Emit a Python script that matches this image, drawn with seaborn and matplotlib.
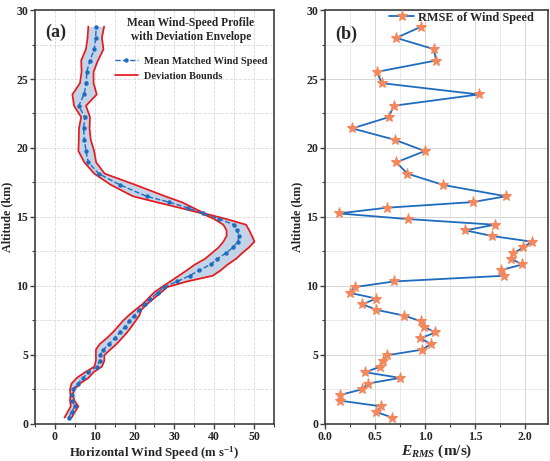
import matplotlib
matplotlib.use("Agg")
import matplotlib.pyplot as plt
import seaborn as sns
import pandas as pd
from matplotlib.ticker import MultipleLocator

# altitude levels (km), shared by both panels
altitude = [0.46, 0.87, 1.28, 1.69, 2.10, 2.52, 2.93, 3.34, 3.75, 4.16,
            4.57, 4.98, 5.39, 5.80, 6.21, 6.63, 7.04, 7.45, 7.86, 8.27,
            8.68, 9.09, 9.50, 9.92, 10.33, 10.74, 11.15, 11.56, 11.97, 12.38,
            12.79, 13.21, 13.62, 14.03, 14.44, 14.85, 15.26, 15.67, 16.08, 16.50,
            17.32, 18.14, 18.96, 19.78, 20.60, 21.42, 22.24, 23.06, 23.88, 24.70,
            25.52, 26.34, 27.16, 27.98, 28.80]

mean_speed = [3.5, 4.2, 5.0, 4.4, 4.3, 4.6, 5.7, 7.1, 8.4, 10.6,
              11.2, 11.3, 12.2, 13.6, 15.0, 16.3, 17.6, 18.7, 19.9, 21.2,
              22.5, 24.0, 25.8, 27.3, 30.7, 33.8, 36.3, 39.1, 40.8, 42.9,
              44.7, 45.9, 46.3, 45.7, 45.0, 41.3, 37.1, 33.3, 28.6, 23.0,
              16.4, 11.0, 8.4, 7.8, 7.4, 7.2, 7.5, 6.0, 7.3, 7.9,
              8.0, 8.8, 9.9, 10.2, 10.4]

lower_bound = [2.4, 3.2, 4.0, 3.8, 3.9, 3.8, 4.2, 5.5, 7.6, 9.9,
               10.3, 10.3, 10.3, 11.3, 13.0, 14.5, 15.8, 17.0, 18.5, 20.2,
               22.0, 23.4, 24.8, 26.8, 29.0, 31.1, 33.2, 35.2, 37.7, 39.4,
               41.1, 42.3, 43.1, 43.1, 42.3, 40.0, 36.9, 31.3, 25.4, 19.6,
               14.1, 9.9, 7.4, 5.9, 6.0, 6.05, 6.6, 4.8, 4.4, 6.3,
               6.7, 6.6, 7.8, 8.2, 8.4]

upper_bound = [4.2, 5.0, 5.9, 4.9, 4.5, 4.9, 6.3, 8.4, 9.7, 11.8,
               12.4, 12.4, 13.9, 15.5, 16.8, 18.1, 19.2, 20.2, 21.2, 21.7,
               23.1, 24.8, 26.5, 28.2, 33.2, 39.6, 41.7, 43.4, 45.5, 47.0,
               48.7, 50.1, 49.5, 48.8, 48.0, 43.1, 37.5, 34.7, 31.8, 27.7,
               20.3, 12.5, 10.35, 9.85, 9.0, 8.7, 8.8, 7.8, 10.5, 9.7,
               9.7, 10.8, 12.2, 11.8, 12.35]

rmse = [0.672, 0.513, 0.560, 0.149, 0.149, 0.374, 0.427, 0.752, 0.401, 0.553,
        0.576, 0.619, 0.974, 1.056, 0.954, 1.103, 0.990, 0.957, 0.788, 0.513,
        0.374, 0.513, 0.248, 0.295, 0.692, 1.785, 1.758, 1.974, 1.858, 1.884,
        1.983, 2.066, 1.672, 1.404, 1.695, 0.828, 0.136, 0.616, 1.477, 1.808,
        1.182, 0.824, 0.712, 0.997, 0.695, 0.272, 0.639, 0.685, 1.536, 0.566,
        0.520, 1.109, 1.089, 0.712, 0.964]

df = pd.DataFrame({"alt": altitude, "mean": mean_speed, "lo": lower_bound,
                   "hi": upper_bound, "rmse": rmse})

sns.set_style("ticks")
plt.rcParams["font.family"] = ["Liberation Serif", "DejaVu Serif"]
plt.rcParams["font.weight"] = "bold"
plt.rcParams["axes.labelweight"] = "bold"
plt.rcParams["mathtext.fontset"] = "custom"
plt.rcParams["mathtext.rm"] = "Liberation Serif:bold"
plt.rcParams["mathtext.it"] = "Liberation Serif:italic"

BLUE = "#1f6cbf"
RED = "#e8181c"
SPINE = "#404040"

fig = plt.figure(figsize=(5.5, 4.61), dpi=100)
ax1 = fig.add_axes([0.0636, 0.0803, 0.4345, 0.898])
ax2 = fig.add_axes([0.591, 0.0803, 0.4055, 0.898])

# panel (a)
ax1.fill_betweenx(df["alt"], df["lo"], df["hi"], color="#b9cde4", alpha=0.85, lw=0)
sns.lineplot(data=df, x="lo", y="alt", sort=False, estimator=None, color=RED,
             lw=1.25, ax=ax1, label="Deviation Bounds")
sns.lineplot(data=df, x="hi", y="alt", sort=False, estimator=None, color=RED,
             lw=1.25, ax=ax1, label="_nolegend_")
sns.lineplot(data=df, x="mean", y="alt", sort=False, estimator=None, color=BLUE,
             lw=1.0, ls="--", marker="o", markersize=3.2, markeredgewidth=0,
             ax=ax1, label="Mean Matched Wind Speed")
ax1.set_xlim(-5, 55)
ax1.set_ylim(0, 30)
ax1.xaxis.set_major_locator(MultipleLocator(10))
ax1.xaxis.set_minor_locator(MultipleLocator(5))
ax1.yaxis.set_major_locator(MultipleLocator(5))
ax1.yaxis.set_minor_locator(MultipleLocator(2.5))
ax1.grid(which="both", ls="--", lw=0.6, color="#d9d9d9")
ax1.set_xlabel("Horizontal Wind Speed (m s$^{-1}$)", fontsize=9.2, labelpad=1)
ax1.set_ylabel("Altitude (km)", fontsize=8.7, labelpad=2)
h, l = ax1.get_legend_handles_labels()
order = [l.index("Mean Matched Wind Speed"), l.index("Deviation Bounds")]
leg1 = ax1.legend([h[i] for i in order], [l[i] for i in order],
                  title="Mean Wind-Speed Profile\nwith Deviation Envelope",
                  loc="upper right", bbox_to_anchor=(1.0, 1.0), frameon=False,
                  fontsize=7.5, title_fontproperties={"weight": "bold", "size": 8.3},
                  handlelength=2.3, handletextpad=0.5, labelspacing=0.55,
                  borderaxespad=0.25)
leg1.get_title().set_multialignment("center")
leg1._legend_box.sep = 10
ax1.text(0.045, 0.945, "(a)", transform=ax1.transAxes, fontsize=13,
         fontweight="bold", va="center")

# panel (b)
sns.lineplot(data=df, x="rmse", y="alt", sort=False, estimator=None, color=BLUE,
             lw=1.3, marker="*", markersize=8, markerfacecolor="#f4875c",
             markeredgecolor="#f4875c", ax=ax2, label="RMSE of Wind Speed")
ax2.set_xlim(0, 2.23)
ax2.set_ylim(0, 30)
ax2.xaxis.set_major_locator(MultipleLocator(0.5))
ax2.xaxis.set_minor_locator(MultipleLocator(0.25))
ax2.yaxis.set_major_locator(MultipleLocator(5))
ax2.yaxis.set_minor_locator(MultipleLocator(2.5))
ax2.grid(which="major", ls="-", lw=0.7, color="#d6d6d6")
ax2.grid(which="minor", ls="-", lw=0.6, color="#e6e6e6")
ax2.set_xlabel("$E_{RMS}$ (m/s)", fontsize=11, labelpad=0)
ax2.set_ylabel("Altitude (km)", fontsize=8.7, labelpad=2)
ax2.legend(loc="upper right", bbox_to_anchor=(1.0, 1.03), frameon=False,
           fontsize=8.8, handlelength=2.1, handletextpad=0.3,
           borderaxespad=0.75)
ax2.text(0.045, 0.94, "(b)", transform=ax2.transAxes, fontsize=13,
         fontweight="bold", va="center")

for ax in (ax1, ax2):
    ax.set_axisbelow(True)
    for s in ax.spines.values():
        s.set_color(SPINE)
        s.set_linewidth(1.2)
    ax.tick_params(which="major", length=3.5, width=1, color=SPINE,
                   labelsize=8.5, pad=1.5)
    ax.tick_params(which="minor", length=2, width=0.8, color=SPINE)
    for t in ax.get_xticklabels() + ax.get_yticklabels():
        t.set_fontweight("bold")

fig.savefig("out.png", dpi=100)
